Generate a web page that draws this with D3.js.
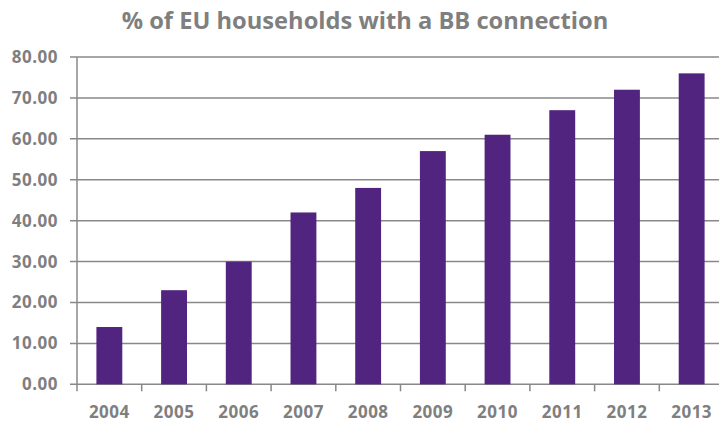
<!DOCTYPE html>
<html>
<head>
<meta charset="utf-8">
<script src="https://cdn.jsdelivr.net/npm/d3@7"></script>
<style>
  body { margin: 0; background: #fff; }
  text { font-family: "Open Sans", sans-serif; font-weight: bold; fill: #7f7f7f; }
</style>
</head>
<body>
<div id="vis"></div>
<script>

var years = ['2004', '2005', '2006', '2007', '2008', '2009', '2010', '2011', '2012', '2013'];
var share = [14, 23, 30, 42, 48, 57, 61, 67, 72, 76];
var yTicks = [0, 10, 20, 30, 40, 50, 60, 70, 80];

var width = 719;
var height = 424;
var margin = { top: 57, left: 77, bottom: 40 };
var bandW = 64.7;

var svg = d3.select('#vis')
  .append('svg')
  .attr('width', width)
  .attr('height', height);

var x = d3.scaleBand()
  .domain(years)
  .range([margin.left, margin.left + bandW * years.length])
  .paddingInner(0.6)
  .paddingOuter(0.3);

var y = d3.scaleLinear()
  .domain([0, 80])
  .range([384.3, margin.top]);

// gridlines
svg.append('g')
  .selectAll('line')
  .data(yTicks)
  .enter().append('line')
  .attr('x1', margin.left - 7)
  .attr('x2', width)
  .attr('y1', function(d) { return y(d); })
  .attr('y2', function(d) { return y(d); })
  .attr('stroke', '#888')
  .attr('stroke-width', 1.5);

// y labels
svg.append('g')
  .selectAll('text')
  .data(yTicks)
  .enter().append('text')
  .attr('x', 58)
  .attr('y', function(d) { return y(d); })
  .attr('dy', '0.35em')
  .attr('text-anchor', 'end')
  .style('font-size', '17px')
  .style('letter-spacing', '0.5px')
  .text(function(d) { return d3.format('.2f')(d); });

// y axis line
svg.append('line')
  .attr('x1', margin.left).attr('x2', margin.left)
  .attr('y1', y(80)).attr('y2', y(0) + 7)
  .attr('stroke', '#888')
  .attr('stroke-width', 1.5);

// category ticks
svg.append('g')
  .selectAll('line')
  .data(years)
  .enter().append('line')
  .attr('x1', function(d) { return x(d) - x.step() * 0.3 + x.step(); })
  .attr('x2', function(d) { return x(d) - x.step() * 0.3 + x.step(); })
  .attr('y1', y(0))
  .attr('y2', y(0) + 7)
  .attr('stroke', '#888')
  .attr('stroke-width', 1.5);

// bars
svg.append('g')
  .selectAll('rect')
  .data(share)
  .enter().append('rect')
  .attr('x', function(d, i) { return x(years[i]); })
  .attr('width', x.bandwidth())
  .attr('y', function(d) { return y(d); })
  .attr('height', function(d) { return y(0) - y(d); })
  .attr('fill', '#50247f');

// x labels
svg.append('g')
  .selectAll('text')
  .data(years)
  .enter().append('text')
  .attr('x', function(d) { return x(d) + x.bandwidth() / 2; })
  .attr('y', 418)
  .attr('text-anchor', 'middle')
  .style('font-size', '17px')
  .style('letter-spacing', '0.5px')
  .text(function(d) { return d; });

svg.append('text')
  .attr('x', 365)
  .attr('y', 29)
  .attr('text-anchor', 'middle')
  .style('font-size', '23.7px')
  .text('% of EU households with a BB connection');

</script>
</body>
</html>
